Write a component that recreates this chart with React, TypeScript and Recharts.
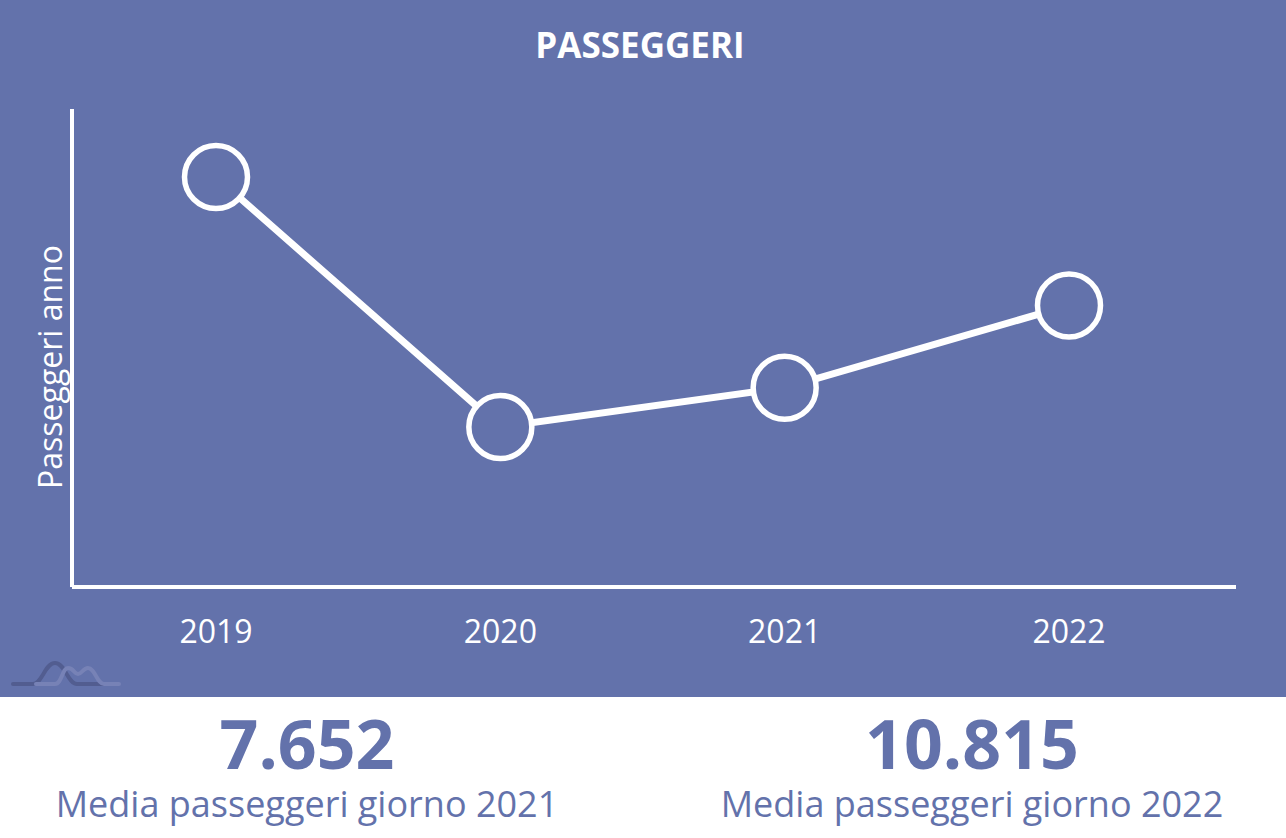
import { CartesianGrid, Line, LineChart, XAxis, YAxis } from "recharts";

const years = ["2019", "2020", "2021", "2022"];
const passengers = [5747000, 2243000, 2793000, 3947000];
const dailyAvgLabels = ["7.652", "10.815"];
const dailyAvgCaptions = ["Media passeggeri giorno 2021", "Media passeggeri giorno 2022"];

const data = years.map((year, i) => ({ year, passengers: passengers[i] }));

const BLUE = "#6372AB";
const FONT = "'Open Sans', sans-serif";

function YLabel({ viewBox }: any) {
  const x = 62;
  const y = viewBox.y + viewBox.height / 2 + 19;
  return (
    <text
      x={x}
      y={y}
      transform={`rotate(-90, ${x}, ${y})`}
      textAnchor="middle"
      fill="#fff"
      fontSize={32}
      fontFamily={FONT}
    >
      Passeggeri anno
    </text>
  );
}

export default function App() {
  return (
    <div
      style={{
        position: "absolute",
        top: 0,
        left: 0,
        width: 1286,
        height: 838,
        background: "#fff",
        fontFamily: FONT,
      }}
    >
      <div style={{ background: BLUE, width: 1286, height: 697 }}>
        <LineChart
          width={1286}
          height={697}
          data={data}
          margin={{ top: 109, right: 50, left: 0, bottom: 0 }}
        >
          <CartesianGrid stroke="none" />
          <XAxis
            dataKey="year"
            interval={0}
            height={110}
            padding={{ left: 144, right: 167 }}
            axisLine={{ stroke: "#fff", strokeWidth: 4 }}
            tickLine={false}
            tickSize={0}
            tickMargin={33}
            tick={{ fill: "#fff", fontSize: 32, fontFamily: FONT }}
          />
          <YAxis
            width={72}
            domain={[0, 6700000]}
            allowDataOverflow
            tick={false}
            tickLine={false}
            axisLine={{ stroke: "#fff", strokeWidth: 4 }}
            label={<YLabel />}
          />
          <Line
            type="linear"
            dataKey="passengers"
            stroke="#fff"
            strokeWidth={7}
            dot={{ r: 31.5, fill: BLUE, stroke: "#fff", strokeWidth: 5.5 }}
            activeDot={false}
            isAnimationActive={false}
          />
        </LineChart>
      </div>
      <svg
        width={1286}
        height={838}
        style={{ position: "absolute", top: 0, left: 0, pointerEvents: "none" }}
      >
        <text
          x={640}
          y={58}
          textAnchor="middle"
          fill="#fff"
          fontSize={35}
          fontWeight={700}
          fontFamily={FONT}
        >
          PASSEGGERI
        </text>
        <g fill="none" strokeWidth={4} strokeLinecap="round">
          <path
            d="M13 684 L33 684 C42 684 45 663 55 663 C65 663 68 684 77 684 L105 684"
            stroke="#525D90"
          />
          <path
            d="M36 684 L55 684 C62 684 62 668 68 668 C74 668 74 674 78 674 C82 674 83 668 88 668 C95 668 97 684 104 684 L119 684"
            stroke="#7782B6"
          />
        </g>
        {dailyAvgLabels.map((label, i) => (
          <g key={label}>
            <text
              x={i === 0 ? 307 : 972}
              y={769}
              textAnchor="middle"
              fill={BLUE}
              fontSize={68}
              fontWeight={700}
              fontFamily={FONT}
            >
              {label}
            </text>
            <text
              x={i === 0 ? 307 : 972}
              y={817}
              textAnchor="middle"
              fill={BLUE}
              fontSize={36}
              fontFamily={FONT}
            >
              {dailyAvgCaptions[i]}
            </text>
          </g>
        ))}
      </svg>
    </div>
  );
}
